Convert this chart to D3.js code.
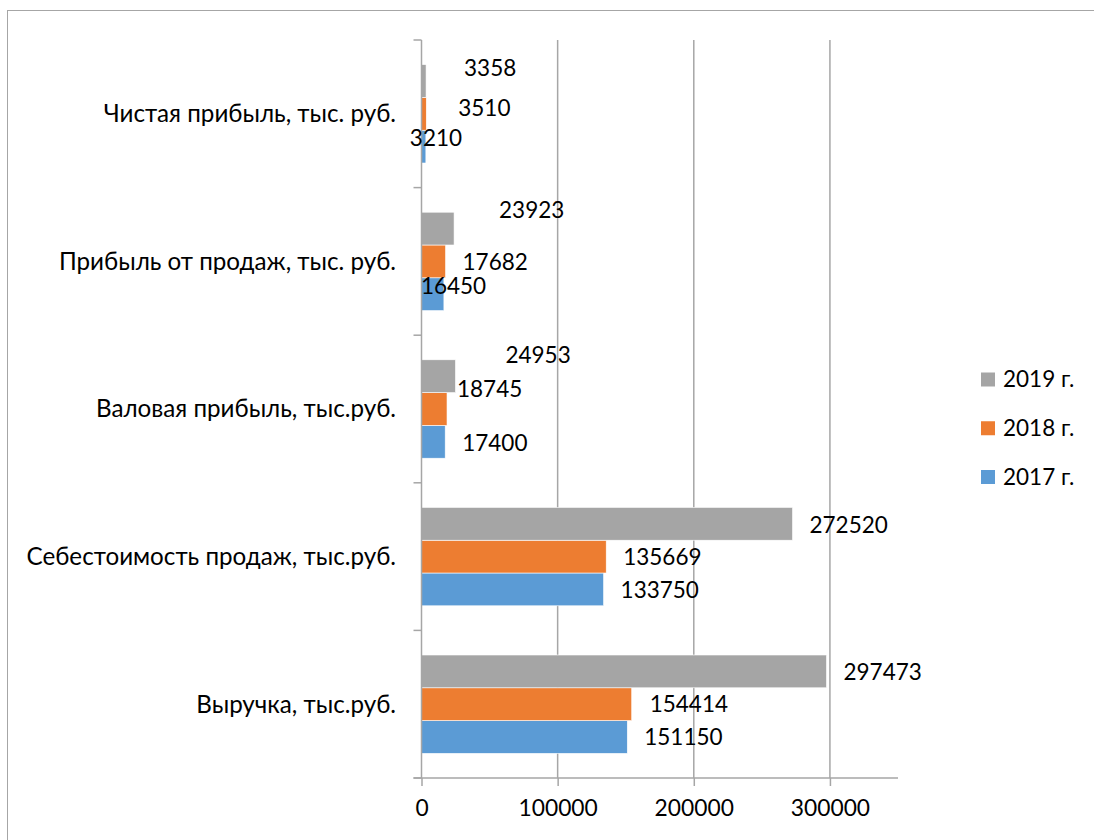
<!DOCTYPE html>
<html>
<head>
<meta charset="utf-8">
<script src="https://cdn.jsdelivr.net/npm/d3@7"></script>
<style>
  html, body { margin: 0; padding: 0; background: #fff; }
  svg { display: block; }
  text { font-family: Lato, "Open Sans", sans-serif; fill: #000; }
</style>
</head>
<body>
<svg id="chart" width="1094" height="840"></svg>
<script>
// ---- data ----
const categories = [
  "Выручка, тыс.руб.",
  "Себестоимость продаж, тыс.руб.",
  "Валовая прибыль, тыс.руб.",
  "Прибыль от продаж, тыс. руб.",
  "Чистая прибыль, тыс. руб."
];
const seriesNames = ["2017 г.", "2018 г.", "2019 г."];
const values2017 = [151150, 133750, 17400, 16450, 3210];
const values2018 = [154414, 135669, 18745, 17682, 3510];
const values2019 = [297473, 272520, 24953, 23923, 3358];
const xTicks = [0, 100000, 200000, 300000];

// ---- style / layout ----
const colors = ["#5b9bd5", "#ed7d31", "#a5a5a5"];
// manual label nudges (dx, dy) per series, per category (as in the source chart)
const nudge2017 = [[0, 0], [0, 1], [0, 1], [-40, -8], [-33, -8]];
const nudge2018 = [[1, 0], [0, 1], [-7, -20], [0, 1], [15, -6]];
const nudge2019 = [[0, 1], [0, 1], [33, -21], [28, -18], [21, -13]];

const seriesValues = [values2017, values2018, values2019];
const nudges = [nudge2017, nudge2018, nudge2019];

const svg = d3.select("#chart");
const plotLeft = 421.5, plotRight = 898, plotTop = 40, plotBottom = 778;

// chart border
svg.append("rect")
  .attr("x", 7.5).attr("y", 10.5).attr("width", 1200).attr("height", 1000)
  .attr("fill", "none").attr("stroke", "#a6a6a6").attr("stroke-width", 1);

const x = d3.scaleLinear().domain([0, 350000]).range([plotLeft, plotRight]);
// first category at the bottom
const y = d3.scaleBand().domain(categories.slice().reverse()).range([plotTop, plotBottom]).padding(0);
// series within group: 2019 on top, 2017 at bottom
const ys = d3.scaleBand().domain(seriesNames.slice().reverse()).range([0, y.bandwidth()])
  .paddingInner(0).paddingOuter(0.75);

// gridlines
svg.append("g").selectAll("line").data(xTicks.slice(1)).join("line")
  .attr("x1", d => x(d)).attr("x2", d => x(d))
  .attr("y1", plotTop).attr("y2", plotBottom)
  .attr("stroke", "#a6a6a6").attr("stroke-width", 1.5);

// bars
const rows = [];
categories.forEach((c, i) => {
  seriesNames.forEach((s, j) => {
    rows.push({ cat: c, series: s, j, value: seriesValues[j][i], nudge: nudges[j][i] });
  });
});

svg.append("g").selectAll("rect").data(rows).join("rect")
  .attr("x", x(0))
  .attr("y", d => y(d.cat) + ys(d.series))
  .attr("width", d => x(d.value) - x(0))
  .attr("height", ys.bandwidth())
  .attr("fill", d => colors[d.j])
  .attr("stroke", "#fff").attr("stroke-width", 0.6);

// x axis
const xAxis = d3.axisBottom(x).tickValues(xTicks).tickFormat(d3.format("d"))
  .tickSizeInner(8).tickSizeOuter(0).tickPadding(14);
const gx = svg.append("g").attr("transform", `translate(0,${plotBottom})`).call(xAxis);
gx.select(".domain").remove();
gx.selectAll(".tick line").attr("stroke", "#a6a6a6").attr("stroke-width", 1.5);
gx.selectAll(".tick text").attr("font-size", 22.8).attr("fill", "#000");
svg.append("line")
  .attr("x1", plotLeft - 8).attr("x2", plotRight)
  .attr("y1", plotBottom).attr("y2", plotBottom)
  .attr("stroke", "#a6a6a6").attr("stroke-width", 1.5);

// y axis line and ticks at category boundaries
svg.append("line")
  .attr("x1", x(0)).attr("x2", x(0))
  .attr("y1", plotTop).attr("y2", plotBottom)
  .attr("stroke", "#a6a6a6").attr("stroke-width", 1.5);
const boundaries = y.domain().map(c => y(c)).concat([y.range()[1]]);
svg.append("g").selectAll("line").data(boundaries).join("line")
  .attr("x1", x(0) - 8).attr("x2", x(0))
  .attr("y1", d => d).attr("y2", d => d)
  .attr("stroke", "#a6a6a6").attr("stroke-width", 1.5);

// category labels
svg.append("g").selectAll("text").data(categories).join("text")
  .attr("x", 396)
  .attr("y", d => y(d) + y.bandwidth() / 2)
  .attr("dy", "0.35em")
  .attr("text-anchor", "end")
  .attr("font-size", 24.2)
  .text(d => d);

// data labels
svg.append("g").selectAll("text").data(rows).join("text")
  .attr("x", d => x(d.value) + 17 + d.nudge[0])
  .attr("y", d => y(d.cat) + ys(d.series) + ys.bandwidth() / 2 + d.nudge[1])
  .attr("dy", "0.35em")
  .attr("font-size", 22.5)
  .text(d => d.value);

// legend
const legendOrder = [2, 1, 0];
const lg = svg.append("g");
const legendY = d3.scalePoint().domain(legendOrder).range([379.5, 477]);
legendOrder.forEach(j => {
  lg.append("rect")
    .attr("x", 981).attr("y", legendY(j) - 7).attr("width", 14).attr("height", 14)
    .attr("fill", colors[j]);
  lg.append("text")
    .attr("x", 1003).attr("y", legendY(j)).attr("dy", "0.35em")
    .attr("font-size", 22.5)
    .text(seriesNames[j]);
});
</script>
</body>
</html>
